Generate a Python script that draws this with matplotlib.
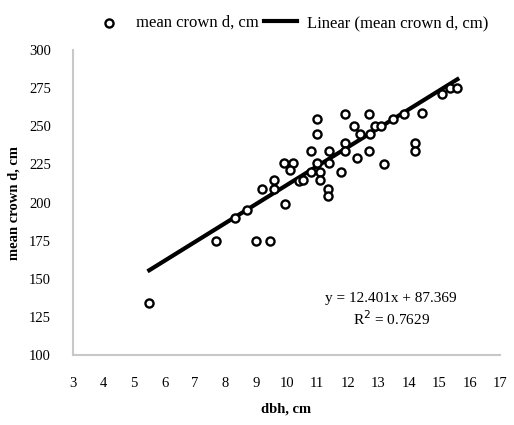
import numpy as np
import matplotlib.pyplot as plt
from matplotlib import rcParams

rcParams['font.family'] = ['Liberation Serif', 'DejaVu Serif']

# dbh, cm and mean crown d, cm
dbh = [5.5, 7.7, 9.0, 9.45, 8.3, 8.7, 9.2, 9.6, 9.6, 9.95,
       9.9, 10.2, 10.1, 10.4, 10.55, 11.0, 11.0, 10.8, 11.0, 10.8,
       11.1, 11.1, 11.4, 11.4, 11.35, 11.35, 11.8, 11.9, 11.9, 11.9,
       12.2, 12.3, 12.4, 12.7, 12.75, 12.7, 12.9, 13.1, 13.2, 13.5,
       13.85, 14.2, 14.2, 14.45, 15.1, 15.35, 15.6]
crown = [134, 175, 175, 175, 190, 195, 209, 209, 215, 199,
         226, 226, 221, 214, 215, 255, 245, 234, 226, 220,
         220, 215, 234, 226, 209, 204, 220, 258, 239, 234,
         250, 229, 245, 258, 245, 234, 250, 250, 225, 255,
         258, 239, 234, 259, 271, 275, 275]

slope = 12.401
intercept = 87.369
r2 = 0.7629

fig = plt.figure(figsize=(5.14, 4.25), dpi=100)
ax = fig.add_axes([0.142, 0.1647, 0.831, 0.7176])

ax.scatter(dbh, crown, s=34, facecolors='white', edgecolors='black',
           linewidths=1.7, zorder=3, label='mean crown d, cm')
xf = np.array([min(dbh), max(dbh)])
ax.plot(xf, slope * xf + intercept, color='black', linewidth=3,
        zorder=2, label='Linear (mean crown d, cm)')

ax.set_xlim(3, 17)
ax.set_ylim(100, 300)
ax.set_xticks(range(3, 18))
ax.set_yticks(range(100, 301, 25))
ax.tick_params(axis='both', length=0, labelsize=10.5)
ax.tick_params(axis='y', pad=16)
ax.tick_params(axis='x', pad=16)

for s in ['top', 'right']:
    ax.spines[s].set_visible(False)
for s in ['left', 'bottom']:
    ax.spines[s].set_color('#c8c8c8')
    ax.spines[s].set_linewidth(1.5)

ax.set_xlabel('dbh, cm', fontsize=10.5, fontweight='bold', labelpad=9)
ax.set_ylabel('mean crown d, cm', fontsize=10.5, fontweight='bold', labelpad=6)

ax.text(0.745, 0.148, f'y = {slope}x + {intercept}\nR$^2$ = {r2}',
        transform=ax.transAxes, ha='center', va='center', fontsize=11,
        linespacing=1.3)

fig.legend(loc='upper center', bbox_to_anchor=(0.565, 1.0), ncol=2,
           frameon=False, fontsize=12, columnspacing=0.3, handletextpad=0.6,
           handlelength=2.0)

plt.savefig('out.png', dpi=100)
